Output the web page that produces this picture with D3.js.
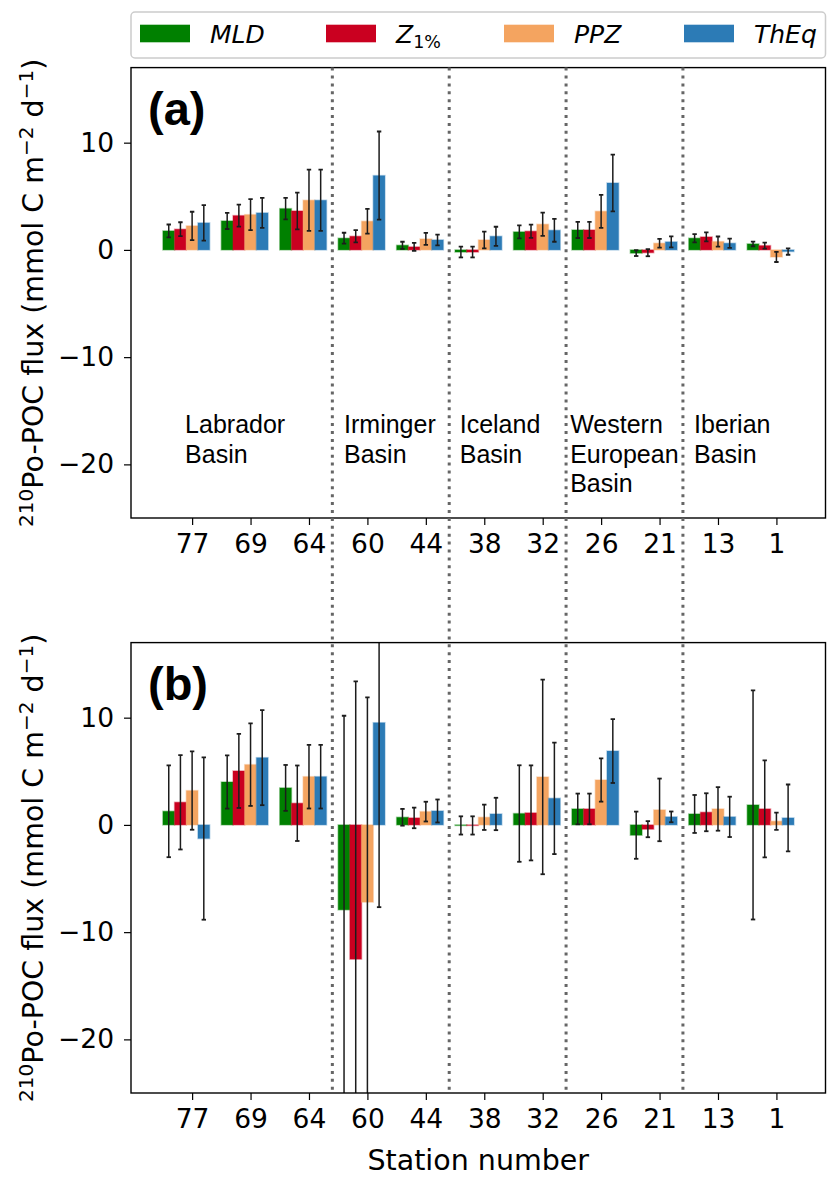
<!DOCTYPE html>
<html lang="en">
  <head>
    <title>210Po-POC flux</title>
    <meta charset="utf-8" />
    <script src="https://cdn.jsdelivr.net/npm/d3@7"></script>
    <style>
      body { margin: 0; background: #fff; }
    </style>
  </head>
  <body>
    <svg id="chart" width="840" height="1181" viewBox="0 0 840 1181"></svg>
    <script>
      // stations along the transect, west -> east
      const stations = ["77", "69", "64", "60", "44", "38", "32", "26", "21", "13", "1"];
      const seriesNames = ["MLD", "Z1%", "PPZ", "ThEq"];
      const colors = ["#008000", "#ca0020", "#f4a460", "#2c7bb6"];

      // panel (a)
      const mldA = [1.77, 2.70, 3.85, 1.09, 0.43, -0.2, 1.68, 1.86, -0.3, 1.09, 0.56];
      const mldAErr = [0.6, 0.75, 1.0, 0.51, 0.33, 0.5, 0.6, 0.75, 0.27, 0.39, 0.22];
      const z1A = [1.93, 3.20, 3.63, 1.27, 0.28, -0.2, 1.74, 1.86, -0.26, 1.21, 0.40];
      const z1AErr = [0.65, 1.02, 1.72, 0.57, 0.37, 0.5, 0.62, 0.75, 0.33, 0.42, 0.28];
      const ppzA = [2.24, 3.29, 4.63, 2.67, 1.02, 0.93, 2.39, 3.6, 0.62, 0.78, -0.66];
      const ppzAErr = [1.32, 1.44, 2.86, 1.16, 0.56, 0.78, 1.09, 1.54, 0.4, 0.47, 0.47];
      const theqA = [2.52, 3.45, 4.63, 6.93, 0.93, 1.27, 1.83, 6.24, 0.75, 0.62, -0.15];
      const theqAErr = [1.66, 1.4, 2.86, 4.11, 0.5, 0.89, 1.07, 2.64, 0.51, 0.44, 0.3];

      // panel (b)
      const mldB = [1.27, 4.0, 3.45, -7.92, 0.71, -0.05, 1.06, 1.49, -0.96, 1.02, 1.86];
      const mldBErr = [4.28, 2.48, 2.14, 18.1, 0.78, 0.85, 4.5, 1.43, 2.2, 1.77, 10.68];
      const z1B = [2.11, 5.03, 2.02, -12.52, 0.65, -0.05, 1.12, 1.49, -0.4, 1.18, 1.49];
      const z1BErr = [4.4, 3.45, 3.52, 25.9, 0.96, 0.85, 4.43, 1.43, 0.75, 1.77, 4.52];
      const ppzB = [3.2, 5.62, 4.5, -7.2, 1.24, 0.71, 4.47, 4.19, 1.4, 1.49, 0.34];
      const ppzBErr = [3.65, 3.85, 2.97, 19.1, 0.92, 1.18, 9.07, 2.02, 2.92, 2.03, 0.81];
      const theqB = [-1.27, 6.27, 4.5, 9.53, 1.3, 1.02, 2.48, 6.89, 0.75, 0.75, 0.65];
      const theqBErr = [7.57, 4.43, 2.97, 17.2, 1.07, 1.51, 5.2, 2.98, 0.5, 1.88, 3.12];

      const yTicks = [-20, -10, 0, 10];
      const basins = [["Labrador", "Basin"], ["Irminger", "Basin"], ["Iceland", "Basin"],
                      ["Western", "European", "Basin"], ["Iberian", "Basin"]];
      const basinX = [-0.12, 2.6, 4.58, 6.47, 8.59];
      const dividers = [2.4, 4.4, 6.4, 8.4];

      const svg = d3.select("#chart");
      const axFont = "DejaVu Sans";

      const left = 131, right = 825.5;
      const panels = [
        { id: "a", label: "(a)", top: 67.6, bottom: 518,
          vals: [mldA, z1A, ppzA, theqA], errs: [mldAErr, z1AErr, ppzAErr, theqAErr] },
        { id: "b", label: "(b)", top: 642.6, bottom: 1093,
          vals: [mldB, z1B, ppzB, theqB], errs: [mldBErr, z1BErr, ppzBErr, theqBErr] }
      ];

      const xScale = d3.scaleLinear().domain([-1.046, 10.84]).range([left, right]);
      const barW = xScale(0.2) - xScale(0);
      const offsets = [-0.4, -0.2, 0, 0.2];

      panels.forEach((p) => {
        const yScale = d3.scaleLinear().domain([-25, 17]).range([p.bottom, p.top]);
        const g = svg.append("g").attr("class", "panel-" + p.id);

        g.append("clipPath").attr("id", "clip-" + p.id)
          .append("rect")
          .attr("x", left).attr("y", p.top)
          .attr("width", right - left).attr("height", p.bottom - p.top);

        const plot = g.append("g").attr("clip-path", `url(#clip-${p.id})`);

        // bars
        seriesNames.forEach((s, k) => {
          const rows = stations.map((st, i) => ({ i: i, v: p.vals[k][i], e: p.errs[k][i] }));
          plot.selectAll(".bar-" + k)
            .data(rows)
            .enter()
            .append("rect")
            .attr("class", "bar-" + k)
            .attr("x", (d) => xScale(d.i + offsets[k]) - barW / 2)
            .attr("width", barW)
            .attr("y", (d) => yScale(Math.max(0, d.v)))
            .attr("height", (d) => Math.abs(yScale(d.v) - yScale(0)))
            .attr("fill", colors[k])
            .attr("stroke", colors[k])
            .attr("stroke-opacity", 0.35)
            .attr("stroke-width", 1.5);
        });

        // error bars
        seriesNames.forEach((s, k) => {
          const rows = stations.map((st, i) => ({ i: i, v: p.vals[k][i], e: p.errs[k][i] }));
          const eb = plot.selectAll(".err-" + k)
            .data(rows)
            .enter()
            .append("g")
            .attr("class", "err-" + k)
            .attr("stroke", "#1c1c1c");
          eb.append("line")
            .attr("x1", (d) => xScale(d.i + offsets[k]))
            .attr("x2", (d) => xScale(d.i + offsets[k]))
            .attr("y1", (d) => yScale(d.v - d.e))
            .attr("y2", (d) => yScale(d.v + d.e))
            .attr("stroke-width", 1.5);
          [-1, 1].forEach((sgn) => {
            eb.append("line")
              .attr("x1", (d) => xScale(d.i + offsets[k]) - 2.2)
              .attr("x2", (d) => xScale(d.i + offsets[k]) + 2.2)
              .attr("y1", (d) => yScale(d.v + sgn * d.e))
              .attr("y2", (d) => yScale(d.v + sgn * d.e))
              .attr("stroke-width", 1.8);
          });
        });

        // axes
        const xAxis = g.append("g")
          .attr("transform", `translate(0, ${p.bottom})`)
          .call(d3.axisBottom(xScale)
            .tickValues(d3.range(stations.length))
            .tickFormat((i) => stations[i])
            .tickSize(7).tickPadding(9));
        xAxis.select(".domain").remove();
        xAxis.selectAll("text")
          .attr("font-family", axFont).attr("font-size", "26.5px").attr("fill", "#000");
        xAxis.selectAll("line").attr("stroke", "#000").attr("stroke-width", 1.2);

        const yAxis = g.append("g")
          .attr("transform", `translate(${left}, 0)`)
          .call(d3.axisLeft(yScale).tickValues(yTicks).tickSize(7).tickPadding(10));
        yAxis.select(".domain").remove();
        yAxis.selectAll("text")
          .attr("font-family", axFont).attr("font-size", "26.5px").attr("fill", "#000");
        yAxis.selectAll("line").attr("stroke", "#000").attr("stroke-width", 1.2);

        // frame
        g.append("rect")
          .attr("x", left).attr("y", p.top)
          .attr("width", right - left).attr("height", p.bottom - p.top)
          .attr("fill", "none").attr("stroke", "#000").attr("stroke-width", 1.4);

        // panel label
        g.append("text")
          .attr("x", left + 17).attr("y", p.top + 57.5)
          .attr("font-family", "Liberation Sans, Arial")
          .attr("font-weight", "bold")
          .attr("font-size", "47px")
          .text(p.label);

        // y-axis label
        const yl = g.append("text")
          .attr("transform", `translate(43, ${(p.top + p.bottom) / 2}) rotate(-90)`)
          .attr("text-anchor", "middle")
          .attr("font-family", axFont)
          .attr("font-size", "28.5px");
        yl.append("tspan").attr("font-size", "20px").attr("dy", -10).text("210");
        yl.append("tspan").attr("dy", 10).text("Po-POC flux (mmol C m");
        yl.append("tspan").attr("font-size", "20px").attr("dy", -10).text("\u22122");
        yl.append("tspan").attr("dy", 10).text(" d");
        yl.append("tspan").attr("font-size", "20px").attr("dy", -10).text("\u22121");
        yl.append("tspan").attr("dy", 10).text(")");

        // basin names in the upper panel
        if (p.id === "a") {
          basins.forEach((lines, j) => {
            const t = g.append("text")
              .attr("x", xScale(basinX[j]))
              .attr("y", yScale(-17.05))
              .attr("font-family", "Liberation Sans, Arial")
              .attr("font-size", "25px");
            lines.forEach((ln, li) => {
              t.append("tspan")
                .attr("x", xScale(basinX[j]))
                .attr("dy", li === 0 ? 0 : 29.8)
                .text(ln);
            });
          });
        }
      });

      // dotted basin dividers spanning both panels
      svg.selectAll(".divider")
        .data(dividers)
        .enter()
        .append("line")
        .attr("class", "divider")
        .attr("x1", (d) => xScale(d))
        .attr("x2", (d) => xScale(d))
        .attr("y1", panels[0].top)
        .attr("y2", panels[1].bottom)
        .attr("stroke", "#666")
        .attr("stroke-width", 3)
        .attr("stroke-dasharray", "3,4.9");

      // x-axis title
      svg.append("text")
        .attr("x", (left + right) / 2)
        .attr("y", 1170)
        .attr("text-anchor", "middle")
        .attr("font-family", axFont)
        .attr("font-size", "28.5px")
        .text("Station number");

      // legend
      const legend = svg.append("g").attr("class", "legend");
      legend.append("rect")
        .attr("x", left).attr("y", 12)
        .attr("width", right - left).attr("height", 46)
        .attr("rx", 4)
        .attr("fill", "#fff")
        .attr("stroke", "#cccccc")
        .attr("stroke-width", 1.5);
      const legendX = [140, 326, 504, 684];
      seriesNames.forEach((s, k) => {
        const item = legend.append("g").attr("transform", `translate(${legendX[k]}, 0)`);
        item.append("rect")
          .attr("x", 0).attr("y", 24.7)
          .attr("width", 50).attr("height", 17.6)
          .attr("fill", colors[k]);
        const t = item.append("text")
          .attr("x", 70).attr("y", 43)
          .attr("font-family", axFont)
          .attr("font-size", "25px");
        if (s === "Z1%") {
          t.append("tspan").attr("font-style", "italic").text("Z");
          t.append("tspan").attr("font-size", "17.5px").attr("dy", 5).text("1%");
        } else {
          t.attr("font-style", "italic").text(s);
        }
      });
    </script>
  </body>
</html>
